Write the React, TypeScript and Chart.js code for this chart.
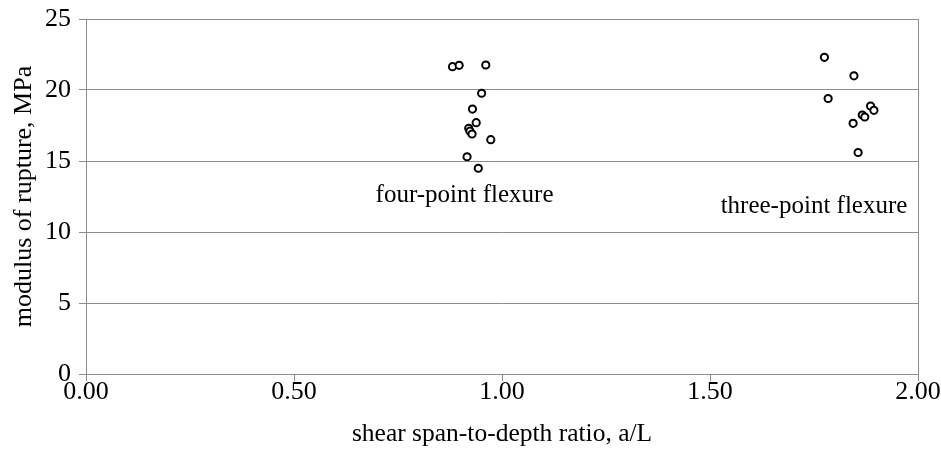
import React, { useEffect, useRef } from "react";
import { Chart, registerables } from "chart.js";

Chart.register(...registerables);

const fourPointX = [0.881, 0.897, 0.961, 0.951, 0.929, 0.938, 0.920, 0.923, 0.928, 0.973, 0.916, 0.943];
const fourPointY = [21.64, 21.74, 21.76, 19.77, 18.66, 17.7, 17.3, 17.1, 16.9, 16.5, 15.3, 14.49];
const threePointX = [1.775, 1.846, 1.784, 1.886, 1.894, 1.866, 1.872, 1.844, 1.856];
const threePointY = [22.3, 21.0, 19.4, 18.87, 18.57, 18.24, 18.1, 17.65, 15.6];
const annotations = [
  { text: "four-point flexure", x: 0.91, y: 12.6 },
  { text: "three-point flexure", x: 1.75, y: 11.8 },
];
const xTitle = "shear span-to-depth ratio, a/L";
const yTitle = "modulus of rupture, MPa";

const FONT = "'Liberation Serif', 'Times New Roman', serif";

export default function App() {
  const ref = useRef<HTMLCanvasElement>(null);
  useEffect(() => {
    document.body.style.margin = "0";
    const pts = (xs: number[], ys: number[]) => xs.map((x, i) => ({ x, y: ys[i] }));
    const boxPlugin = {
      id: "box",
      afterDraw(chart: any) {
        const { ctx, chartArea: a, scales } = chart;
        ctx.save();
        ctx.strokeStyle = "#8c8c8c";
        ctx.lineWidth = 1;
        ctx.strokeRect(a.left + 0.5, a.top + 0.5, a.right - a.left, a.bottom - a.top);
        ctx.fillStyle = "#000";
        ctx.font = `25px ${FONT}`;
        ctx.textAlign = "center";
        ctx.textBaseline = "middle";
        for (const an of annotations) {
          ctx.fillText(an.text, scales.x.getPixelForValue(an.x), scales.y.getPixelForValue(an.y));
        }
        ctx.restore();
      },
    };
    const pointStyle = {
      showLine: false,
      pointRadius: 3.6,
      pointBorderWidth: 2,
      pointBackgroundColor: "#fff",
      pointBorderColor: "#000",
      pointHoverRadius: 3.6,
    };
    const chart = new Chart(ref.current!, {
      type: "scatter",
      data: {
        datasets: [
          { label: "four-point", data: pts(fourPointX, fourPointY), ...pointStyle },
          { label: "three-point", data: pts(threePointX, threePointY), ...pointStyle },
        ],
      },
      options: {
        animation: false,
        responsive: false,
        layout: { padding: { top: 19, right: 23, left: 0, bottom: 0 } },
        plugins: { legend: { display: false }, tooltip: { enabled: false } },
        scales: {
          x: {
            type: "linear",
            min: 0,
            max: 2,
            afterFit(s: any) { s.height = 78; s.paddingLeft = 0; s.paddingRight = 0; },
            ticks: {
              stepSize: 0.5,
              color: "#000",
              font: { family: FONT, size: 26 },
              padding: -4,
              callback: (v: any) => Number(v).toFixed(2),
            },
            grid: { drawOnChartArea: false, color: "#8c8c8c", tickLength: 7 },
            border: { color: "#8c8c8c" },
            title: {
              display: true,
              text: xTitle,
              color: "#000",
              font: { family: FONT, size: 25.5 },
              padding: { top: 0, bottom: 2 },
            },
          },
          y: {
            min: 0,
            max: 25,
            afterFit(s: any) { s.width = 86; s.paddingTop = 0; s.paddingBottom = 0; },
            ticks: {
              stepSize: 5,
              color: "#000",
              font: { family: FONT, size: 26 },
              padding: 8,
            },
            grid: { color: "#8c8c8c", tickLength: 7 },
            border: { color: "#8c8c8c" },
            title: {
              display: true,
              text: yTitle,
              color: "#000",
              font: { family: FONT, size: 26 },
              padding: { top: 9, bottom: 0 },
            },
          },
        },
      },
      plugins: [boxPlugin],
    });
    return () => chart.destroy();
  }, []);
  return (
    <div style={{ width: 941, height: 452, background: "#fff" }}>
      <canvas ref={ref} width={941} height={452} />
    </div>
  );
}
